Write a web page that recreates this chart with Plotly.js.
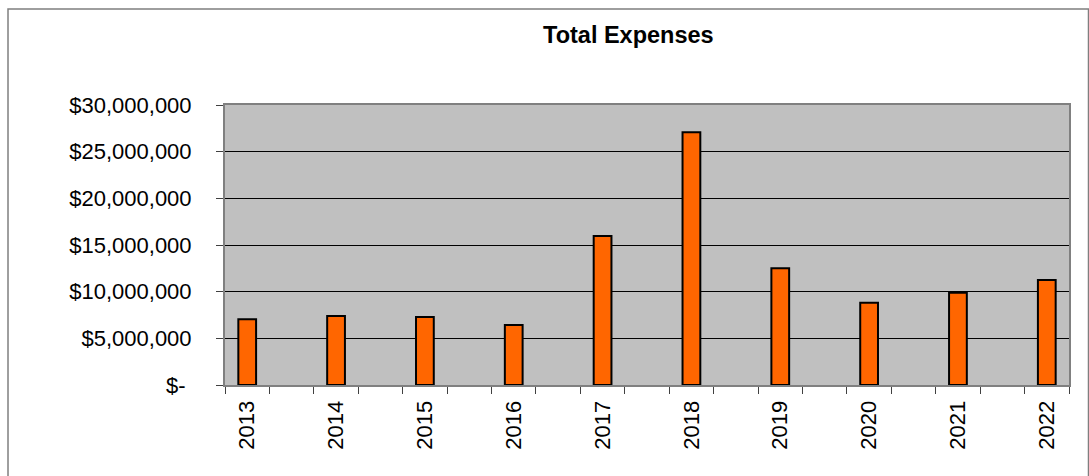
<!DOCTYPE html>
<html>
<head>
<meta charset="utf-8">
<script src="https://cdn.plot.ly/plotly-3.0.1.min.js"></script>
<style>
  body { margin: 0; background: #fff; }
  #chart { width: 1089px; height: 476px; }
</style>
</head>
<body>
<div id="chart"></div>
<script>
// values (USD)
const years = [2013, 2014, 2015, 2016, 2017, 2018, 2019, 2020, 2021, 2022];
const expenses = [7040000, 7390000, 7290000, 6430000, 15960000, 27070000, 12500000, 8820000, 9890000, 11250000];
const yTickVals = [0, 5000000, 10000000, 15000000, 20000000, 25000000, 30000000];
const yTickText = ['$-\u00a0', '$5,000,000', '$10,000,000', '$15,000,000', '$20,000,000', '$25,000,000', '$30,000,000'];

const FONT = 'Arial, "Liberation Sans", sans-serif';

const trace = {
    x: years,
    y: expenses,
    type: 'bar',
    width: 0.2,
    marker: { color: '#ff6600', line: { color: '#000000', width: 2 } },
    hoverinfo: 'x+y'
};

const layout = {
    width: 1089,
    height: 476,
    margin: { l: 225, r: 20, t: 105, b: 91 },
    paper_bgcolor: '#ffffff',
    plot_bgcolor: '#c0c0c0',
    font: { family: FONT, size: 22, color: '#000' },
    showlegend: false,
    title: {
        text: '<b>Total Expenses</b>',
        font: { family: FONT, size: 23.5, color: '#000' },
        xref: 'container', x: 0.577, xanchor: 'center',
        yref: 'container', y: 0.926, yanchor: 'middle'
    },
    xaxis: {
        range: [2012.75, 2022.25],
        tickvals: years,
        ticktext: years.map(String),
        tickangle: -90,
        ticks: '',
        ticklabelstandoff: 5,
        showgrid: false,
        zeroline: false,
        showline: true,
        linecolor: '#808080',
        linewidth: 2,
        mirror: true,
        minor: {
            tick0: 2012.75,
            dtick: 0.5,
            ticks: 'outside',
            ticklen: 7,
            tickwidth: 1,
            tickcolor: '#404040',
            showgrid: false
        }
    },
    yaxis: {
        range: [0, 30000000],
        tickvals: yTickVals,
        ticktext: yTickText,
        ticks: 'outside',
        ticklen: 7,
        tickwidth: 1,
        tickcolor: '#404040',
        ticklabelstandoff: 20,
        showgrid: true,
        gridcolor: '#000000',
        gridwidth: 1,
        zeroline: false,
        showline: true,
        linecolor: '#808080',
        linewidth: 2,
        mirror: true
    },
    shapes: [{
        // outer chart-area border
        type: 'rect',
        xref: 'paper', yref: 'paper',
        x0: -0.2571, x1: 1.0231,
        y0: -0.36, y1: 1.3429,
        line: { color: '#7f7f7f', width: 1.5 },
        fillcolor: 'rgba(0,0,0,0)',
        layer: 'below'
    }]
};

Plotly.newPlot('chart', [trace], layout, { displayModeBar: false, staticPlot: true });
</script>
</body>
</html>
